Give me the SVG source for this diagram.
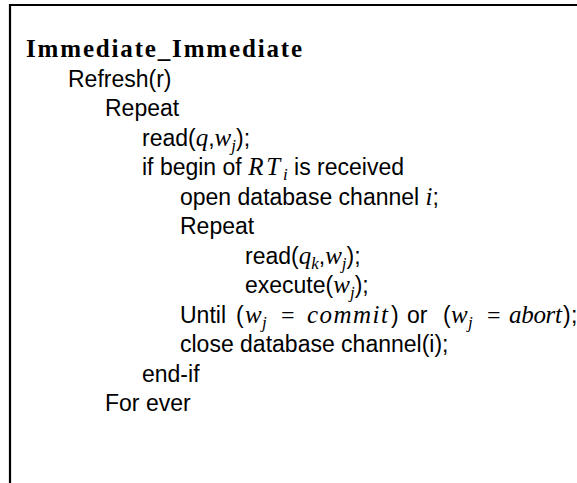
<svg xmlns="http://www.w3.org/2000/svg" width="577" height="483" viewBox="0 0 577 483">
<style>
.t{font-family:"Liberation Sans",Arial,sans-serif;font-size:23px;fill:#000}
.h{font-family:"Liberation Serif","Times New Roman",serif;font-size:25px;font-weight:bold;fill:#000}
.m{font-family:"Liberation Serif","Times New Roman",serif;font-style:italic;font-size:25px}
.s{font-size:17px}
.r{font-family:"Liberation Serif","Times New Roman",serif;font-size:24px}
.frame{stroke:#000;stroke-width:2.2;fill:none}
</style>
<rect width="577" height="483" fill="#fff"/>
<g id="frame">
<path class="frame" d="M10,483 V5 H577"/>
</g>
<g id="code">
<text class="h" x="26" y="57" textLength="276" lengthAdjust="spacing">Immediate_Immediate</text>
<text class="t" x="68" y="86.5">Refresh(r)</text>
<text class="t" x="105" y="116">Repeat</text>
<text class="t" x="142" y="145.5">read(<tspan class="m">q</tspan>,<tspan class="m">w</tspan><tspan class="m s" dy="5">j</tspan><tspan dy="-5">);</tspan></text>
<text class="t" x="142" y="175">if begin of <tspan class="m" textLength="32">RT</tspan><tspan class="m s" dy="5">i</tspan><tspan dy="-5"> is received</tspan></text>
<text class="t" x="180" y="204.5">open database channel <tspan class="m">i</tspan>;</text>
<text class="t" x="180" y="234">Repeat</text>
<text class="t" x="245" y="263.5">read(<tspan class="m">q</tspan><tspan class="m s" dy="5">k</tspan><tspan dy="-5">,</tspan><tspan class="m">w</tspan><tspan class="m s" dy="5">j</tspan><tspan dy="-5">);</tspan></text>
<text class="t" x="245" y="293">execute(<tspan class="m">w</tspan><tspan class="m s" dy="5">j</tspan><tspan dy="-5">);</tspan></text>
<text class="t" y="322.5"><tspan x="180">Until</tspan><tspan x="236">(</tspan><tspan class="m" x="245">w</tspan><tspan class="m s" x="262" dy="5">j</tspan><tspan class="r" x="281" dy="-5">=</tspan><tspan class="m" x="307" textLength="81">commit</tspan><tspan x="391">)</tspan><tspan x="407">or</tspan><tspan x="443">(</tspan><tspan class="m" x="451">w</tspan><tspan class="m s" x="468" dy="5">j</tspan><tspan class="r" x="487" dy="-5">=</tspan><tspan class="m" x="509" textLength="53">abort</tspan><tspan x="563">)</tspan><tspan x="571">;</tspan></text>
<text class="t" x="180" y="352">close database channel(i);</text>
<text class="t" x="142" y="381.5">end-if</text>
<text class="t" x="105" y="411">For ever</text>
</g>
</svg>
